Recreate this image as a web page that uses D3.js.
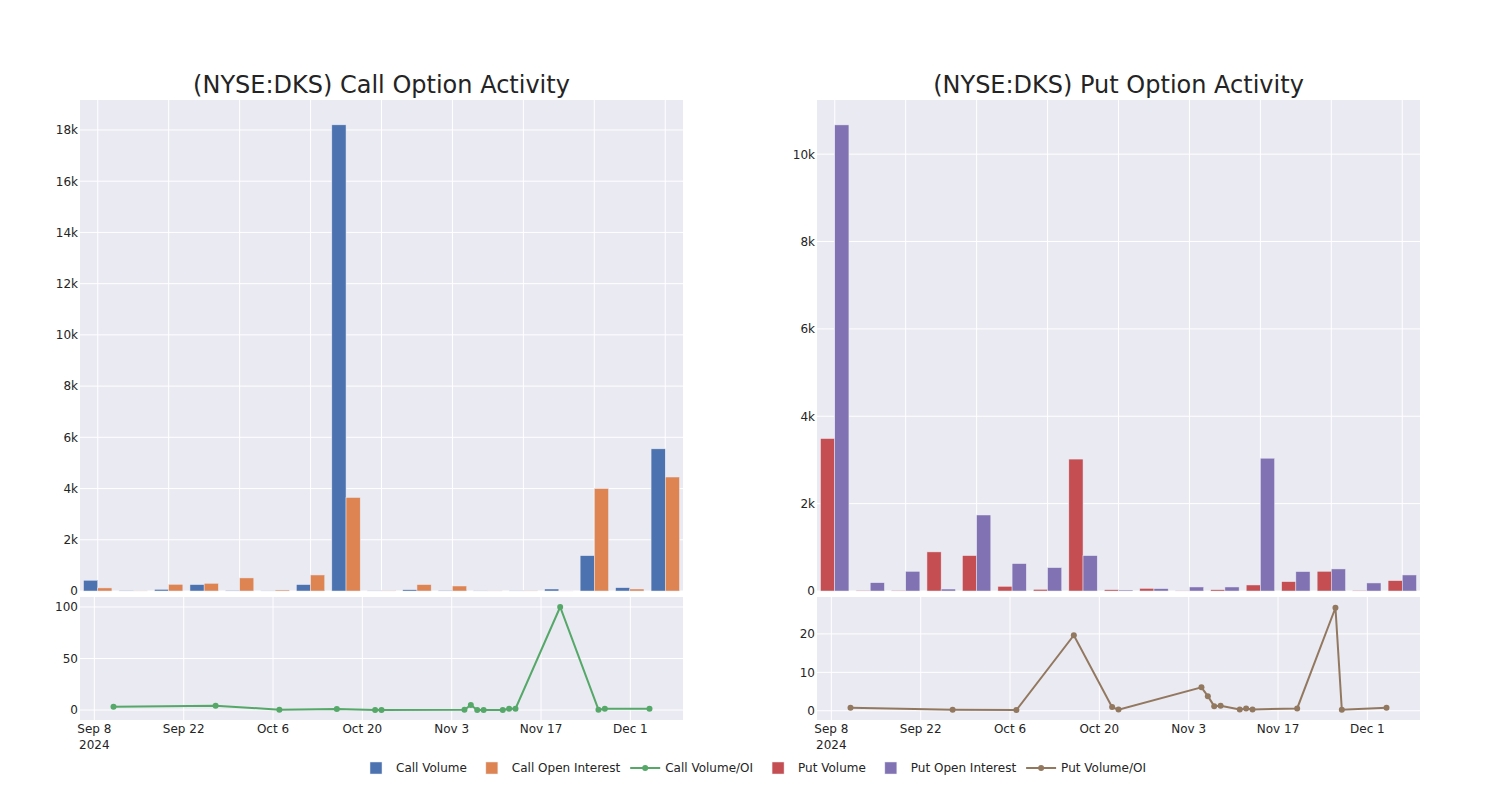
<!DOCTYPE html>
<html><head><meta charset="utf-8">
<script src="https://cdn.jsdelivr.net/npm/d3@7"></script>
<style>
body{margin:0;background:#fff}
text{font-family:"DejaVu Sans",sans-serif;fill:#242424}
</style>
</head><body><svg id="c" width="1500" height="800"></svg>
<script>
// ---- data ----
const dates = ["2024-09-11","2024-09-27","2024-10-07","2024-10-16","2024-10-22","2024-10-23","2024-11-05","2024-11-06","2024-11-07","2024-11-08","2024-11-11","2024-11-12","2024-11-13","2024-11-20","2024-11-26","2024-11-27","2024-12-04"];
const callVolume = [420, 20, 65, 250, 25, 10, 250, 18200, 12, 50, 25, 12, 12, 78, 1380, 130, 5550];
const callOI     = [120, 5, 260, 300, 510, 40, 626, 3650, 15, 250, 195, 10, 8, 1, 4000, 78, 4450];
const callRatio  = [3.2, 4.2, 0.3, 1.0, 0.0, 0.0, 0.3, 4.9, 0.0, 0.0, 0.0, 1.3, 1.3, 100, 0.3, 1.3, 1.3];
const putVolume  = [3490, 15, 15, 895, 810, 107, 38, 3020, 30, 60, 8, 30, 138, 214, 451, 15, 237];
const putOI      = [10670, 190, 450, 45, 1740, 627, 535, 810, 23, 54, 92, 92, 3040, 444, 505, 184, 367];
const putRatio   = [0.78, 0.26, 0.17, 19.65, 0.95, 0.3, 6.1, 3.8, 1.2, 1.3, 0.35, 0.6, 0.35, 0.6, 26.8, 0.26, 0.78];
const callBarTicks = [0, 2000, 4000, 6000, 8000, 10000, 12000, 14000, 16000, 18000];
const putBarTicks = [0, 2000, 4000, 6000, 8000, 10000];
const callRatioTicks = [0, 50, 100];
const putRatioTicks = [0, 10, 20];
const dateTicks = ["2024-09-08","2024-09-22","2024-10-06","2024-10-20","2024-11-03","2024-11-17","2024-12-01"];
const legendLabels = ["Call Volume","Call Open Interest","Call Volume/OI","Put Volume","Put Open Interest","Put Volume/OI"];

const C = {cv:"#4C72B0", co:"#DD8452", cr:"#55A868", pv:"#C44E52", po:"#8172B3", pr:"#937860"};
const BG = "#EAEAF2";
const parse = d3.timeParse("%Y-%m-%d");
const svg = d3.select("#c");

function panel(x0, title, vol, oi, ratio, cV, cO, cR, barMax, bTicks, rDom, rTicks){
  const W = 603, barTop = 100, barBot = 591, lnTop = 597, lnBot = 720;
  const g = svg.append("g").attr("transform", `translate(${x0},0)`);
  // title
  g.append("text").attr("x", W/2).attr("y", 93).attr("text-anchor","middle")
    .style("font-size","24px").text(title);
  // ---- bar subplot ----
  g.append("rect").attr("x",0).attr("y",barTop).attr("width",W).attr("height",barBot-barTop).attr("fill",BG);
  const xb = d3.scaleBand().domain(dates).range([0,W]).paddingInner(0.2).paddingOuter(0.1);
  const xs = d3.scaleBand().domain(["v","o"]).range([0, xb.bandwidth()]);
  const yb = d3.scaleLinear().domain([0, barMax]).range([barBot, barTop]);
  // grid
  g.selectAll(".gx").data(dates.filter((d,i)=>i%2===0)).join("line")
    .attr("x1", d=>xb(d)+xb.bandwidth()/2).attr("x2", d=>xb(d)+xb.bandwidth()/2)
    .attr("y1", barTop).attr("y2", barBot).attr("stroke","#fff").attr("stroke-width",1);
  g.selectAll(".gy").data(bTicks).join("line")
    .attr("x1",0).attr("x2",W).attr("y1",d=>yb(d)).attr("y2",d=>yb(d))
    .attr("stroke","#fff").attr("stroke-width",1);
  const yAxB = g.append("g").call(d3.axisLeft(yb).tickValues(bTicks).tickSize(0).tickPadding(2)
      .tickFormat(d=> d===0 ? "0" : (d/1000)+"k"));
  yAxB.select(".domain").remove();
  yAxB.selectAll("text").style("font-size","12px").style("font-family","DejaVu Sans").attr("fill","#242424");
  const rows = dates.map((d,i)=>({d, v:vol[i], o:oi[i]}));
  const grp = g.append("g").selectAll("g").data(rows).join("g").attr("transform", r=>`translate(${xb(r.d)},0)`);
  grp.append("rect").attr("x", xs("v")).attr("width", xs.bandwidth())
    .attr("y", r=>yb(r.v)).attr("height", r=>barBot-yb(r.v))
    .attr("fill", cV).attr("stroke", BG).attr("stroke-width",0.5);
  grp.append("rect").attr("x", xs("o")).attr("width", xs.bandwidth())
    .attr("y", r=>yb(r.o)).attr("height", r=>barBot-yb(r.o))
    .attr("fill", cO).attr("stroke", BG).attr("stroke-width",0.5);
  // ---- line subplot ----
  g.append("rect").attr("x",0).attr("y",lnTop).attr("width",W).attr("height",lnBot-lnTop).attr("fill",BG);
  const xt = d3.scaleTime().domain([new Date(2024,8,5,18), new Date(2024,11,9,6)]).range([0,W]);
  const yr = d3.scaleLinear().domain(rDom).range([lnBot, lnTop]);
  const tdates = dateTicks.map(parse);
  g.selectAll(".lgx").data(tdates).join("line")
    .attr("x1",d=>xt(d)).attr("x2",d=>xt(d)).attr("y1",lnTop).attr("y2",lnBot)
    .attr("stroke","#fff").attr("stroke-width",1);
  g.selectAll(".lgy").data(rTicks).join("line")
    .attr("x1",0).attr("x2",W).attr("y1",d=>yr(d)).attr("y2",d=>yr(d))
    .attr("stroke","#fff").attr("stroke-width",1);
  const yAxR = g.append("g").call(d3.axisLeft(yr).tickValues(rTicks).tickSize(0).tickPadding(2));
  yAxR.select(".domain").remove();
  yAxR.selectAll("text").style("font-size","12px").style("font-family","DejaVu Sans").attr("fill","#242424");
  const fmt = d3.timeFormat("%b %-d");
  const xl = g.append("g").selectAll("text").data(tdates).join("text")
    .attr("x", d=>xt(d)).attr("y", 733).attr("text-anchor","middle").style("font-size","12px");
  xl.append("tspan").attr("x", d=>xt(d)).text(d=>fmt(d));
  xl.filter((d,i)=>i===0).append("tspan").attr("x", d=>xt(d)).attr("dy",16).text(d=>d.getFullYear());
  const pts = dates.map((d,i)=>({t:parse(d), r:ratio[i]}));
  g.append("path").datum(pts)
    .attr("d", d3.line().x(p=>xt(p.t)).y(p=>yr(p.r)))
    .attr("fill","none").attr("stroke",cR).attr("stroke-width",2);
  g.selectAll(".pt").data(pts).join("circle")
    .attr("cx",p=>xt(p.t)).attr("cy",p=>yr(p.r)).attr("r",3).attr("fill",cR);
}

panel(80, "(NYSE:DKS) Call Option Activity", callVolume, callOI, callRatio, C.cv, C.co, C.cr,
      19170, callBarTicks, [-9.7, 109.7], callRatioTicks);
panel(817, "(NYSE:DKS) Put Option Activity", putVolume, putOI, putRatio, C.pv, C.po, C.pr,
      11240, putBarTicks, [-2.4, 29.6], putRatioTicks);

// ---- legend ----
const legKinds = ["bar","bar","line","bar","bar","line"];
const legCols = [C.cv, C.co, C.cr, C.pv, C.po, C.pr];
let lx = 356;
const ly = 768;
const lg = svg.append("g");
legendLabels.forEach((lab,i)=>{
  const it = lg.append("g").attr("transform",`translate(${lx},${ly})`);
  if(legKinds[i]==="bar"){
    it.append("rect").attr("x",14).attr("y",-6).attr("width",12).attr("height",12)
      .attr("fill",legCols[i]).attr("stroke",BG).attr("stroke-width",0.5);
  } else {
    it.append("line").attr("x1",5).attr("x2",35).attr("y1",0).attr("y2",0)
      .attr("stroke",legCols[i]).attr("stroke-width",2);
    it.append("circle").attr("cx",20).attr("cy",0).attr("r",3).attr("fill",legCols[i]);
  }
  const t = it.append("text").attr("x",40).attr("y",0).attr("dy","0.35em").style("font-size","12px").text(lab);
  lx += 40 + t.node().getComputedTextLength() + 5;
});
</script>
</body></html>
